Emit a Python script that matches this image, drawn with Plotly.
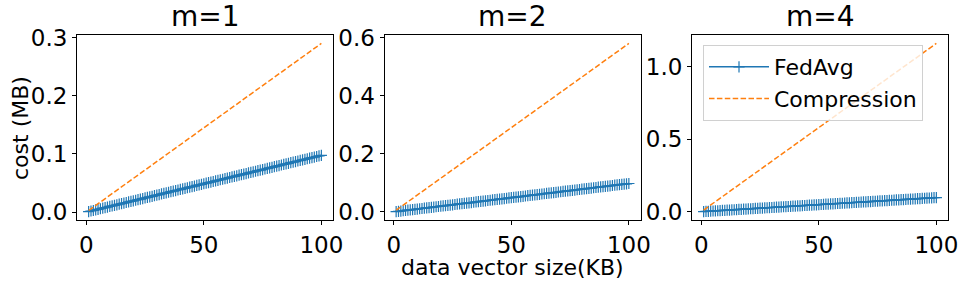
import plotly.graph_objects as go

# ---------------- data ----------------
panel_titles = ["m=1", "m=2", "m=4"]

data_size_kb = [1, 2, 3, 4, 5, 6, 7, 8, 9, 10,
                11, 12, 13, 14, 15, 16, 17, 18, 19, 20,
                21, 22, 23, 24, 25, 26, 27, 28, 29, 30,
                31, 32, 33, 34, 35, 36, 37, 38, 39, 40,
                41, 42, 43, 44, 45, 46, 47, 48, 49, 50,
                51, 52, 53, 54, 55, 56, 57, 58, 59, 60,
                61, 62, 63, 64, 65, 66, 67, 68, 69, 70,
                71, 72, 73, 74, 75, 76, 77, 78, 79, 80,
                81, 82, 83, 84, 85, 86, 87, 88, 89, 90,
                91, 92, 93, 94, 95, 96, 97, 98, 99, 100]

fedavg_cost = [0.0010, 0.0020, 0.0029, 0.0039, 0.0049, 0.0059, 0.0068, 0.0078, 0.0088, 0.0098,
               0.0107, 0.0117, 0.0127, 0.0137, 0.0146, 0.0156, 0.0166, 0.0176, 0.0186, 0.0195,
               0.0205, 0.0215, 0.0225, 0.0234, 0.0244, 0.0254, 0.0264, 0.0273, 0.0283, 0.0293,
               0.0303, 0.0313, 0.0322, 0.0332, 0.0342, 0.0352, 0.0361, 0.0371, 0.0381, 0.0391,
               0.0400, 0.0410, 0.0420, 0.0430, 0.0439, 0.0449, 0.0459, 0.0469, 0.0479, 0.0488,
               0.0498, 0.0508, 0.0518, 0.0527, 0.0537, 0.0547, 0.0557, 0.0566, 0.0576, 0.0586,
               0.0596, 0.0605, 0.0615, 0.0625, 0.0635, 0.0645, 0.0654, 0.0664, 0.0674, 0.0684,
               0.0693, 0.0703, 0.0713, 0.0723, 0.0732, 0.0742, 0.0752, 0.0762, 0.0771, 0.0781,
               0.0791, 0.0801, 0.0811, 0.0820, 0.0830, 0.0840, 0.0850, 0.0859, 0.0869, 0.0879,
               0.0889, 0.0898, 0.0908, 0.0918, 0.0928, 0.0938, 0.0947, 0.0957, 0.0967, 0.0977]

compression_cost_m1 = [0.0029, 0.0058, 0.0087, 0.0116, 0.0145, 0.0174, 0.0203, 0.0232, 0.0261, 0.0290,
                       0.0319, 0.0348, 0.0377, 0.0406, 0.0435, 0.0464, 0.0493, 0.0522, 0.0551, 0.0580,
                       0.0609, 0.0638, 0.0667, 0.0696, 0.0725, 0.0754, 0.0783, 0.0812, 0.0841, 0.0870,
                       0.0899, 0.0928, 0.0957, 0.0986, 0.1015, 0.1044, 0.1073, 0.1102, 0.1131, 0.1160,
                       0.1189, 0.1218, 0.1247, 0.1276, 0.1305, 0.1334, 0.1363, 0.1392, 0.1421, 0.1450,
                       0.1479, 0.1508, 0.1537, 0.1566, 0.1595, 0.1624, 0.1653, 0.1682, 0.1711, 0.1740,
                       0.1769, 0.1798, 0.1827, 0.1856, 0.1885, 0.1914, 0.1943, 0.1972, 0.2001, 0.2030,
                       0.2059, 0.2088, 0.2117, 0.2146, 0.2175, 0.2204, 0.2233, 0.2262, 0.2291, 0.2320,
                       0.2349, 0.2378, 0.2407, 0.2436, 0.2465, 0.2494, 0.2523, 0.2552, 0.2581, 0.2610,
                       0.2639, 0.2668, 0.2697, 0.2726, 0.2755, 0.2784, 0.2813, 0.2842, 0.2871, 0.2900]

compression_cost_m2 = [0.0058, 0.0116, 0.0174, 0.0232, 0.0290, 0.0348, 0.0406, 0.0464, 0.0522, 0.0580,
                       0.0638, 0.0696, 0.0754, 0.0812, 0.0870, 0.0928, 0.0986, 0.1044, 0.1102, 0.1160,
                       0.1218, 0.1276, 0.1334, 0.1392, 0.1450, 0.1508, 0.1566, 0.1624, 0.1682, 0.1740,
                       0.1798, 0.1856, 0.1914, 0.1972, 0.2030, 0.2088, 0.2146, 0.2204, 0.2262, 0.2320,
                       0.2378, 0.2436, 0.2494, 0.2552, 0.2610, 0.2668, 0.2726, 0.2784, 0.2842, 0.2900,
                       0.2958, 0.3016, 0.3074, 0.3132, 0.3190, 0.3248, 0.3306, 0.3364, 0.3422, 0.3480,
                       0.3538, 0.3596, 0.3654, 0.3712, 0.3770, 0.3828, 0.3886, 0.3944, 0.4002, 0.4060,
                       0.4118, 0.4176, 0.4234, 0.4292, 0.4350, 0.4408, 0.4466, 0.4524, 0.4582, 0.4640,
                       0.4698, 0.4756, 0.4814, 0.4872, 0.4930, 0.4988, 0.5046, 0.5104, 0.5162, 0.5220,
                       0.5278, 0.5336, 0.5394, 0.5452, 0.5510, 0.5568, 0.5626, 0.5684, 0.5742, 0.5800]

compression_cost_m4 = [0.0116, 0.0232, 0.0348, 0.0464, 0.0580, 0.0696, 0.0812, 0.0928, 0.1044, 0.1160,
                       0.1276, 0.1392, 0.1508, 0.1624, 0.1740, 0.1856, 0.1972, 0.2088, 0.2204, 0.2320,
                       0.2436, 0.2552, 0.2668, 0.2784, 0.2900, 0.3016, 0.3132, 0.3248, 0.3364, 0.3480,
                       0.3596, 0.3712, 0.3828, 0.3944, 0.4060, 0.4176, 0.4292, 0.4408, 0.4524, 0.4640,
                       0.4756, 0.4872, 0.4988, 0.5104, 0.5220, 0.5336, 0.5452, 0.5568, 0.5684, 0.5800,
                       0.5916, 0.6032, 0.6148, 0.6264, 0.6380, 0.6496, 0.6612, 0.6728, 0.6844, 0.6960,
                       0.7076, 0.7192, 0.7308, 0.7424, 0.7540, 0.7656, 0.7772, 0.7888, 0.8004, 0.8120,
                       0.8236, 0.8352, 0.8468, 0.8584, 0.8700, 0.8816, 0.8932, 0.9048, 0.9164, 0.9280,
                       0.9396, 0.9512, 0.9628, 0.9744, 0.9860, 0.9976, 1.0092, 1.0208, 1.0324, 1.0440,
                       1.0556, 1.0672, 1.0788, 1.0904, 1.1020, 1.1136, 1.1252, 1.1368, 1.1484, 1.1600]

compression_series = [compression_cost_m1, compression_cost_m2, compression_cost_m4]
y_tick_steps = [0.1, 0.2, 0.5]
x_tick_values = [0, 50, 100]
x_tick_labels = ["0", "50", "100"]
y_axis_label = "cost (MB)"
x_axis_label = "data vector size(KB)"

# ---------------- figure ----------------
W, H = 968, 284
FONT = "DejaVu Sans"
BLUE = "#1f77b4"
ORANGE = "#ff7f0e"
TICK_SIZE = 23

x_domains_px = [(77, 333), (384.5, 640.5), (692, 948)]
y_top_px, y_bot_px = 35, 220
y_domain = [1 - y_bot_px / H, 1 - y_top_px / H]

fig = go.Figure()
layout = dict(
    width=W, height=H,
    margin=dict(l=0, r=0, t=0, b=0),
    paper_bgcolor="white", plot_bgcolor="white",
    font=dict(family=FONT, size=TICK_SIZE, color="black"),
    showlegend=True,
    legend=dict(
        x=703 / W, y=1 - 45 / H, xanchor="left", yanchor="top",
        bgcolor="rgba(255,255,255,0.8)", bordercolor="#d0d0d0", borderwidth=1,
        font=dict(family=FONT, size=22, color="black"),
        itemwidth=60, tracegroupgap=0,
    ),
)

annotations = []
for i in range(3):
    ax = "" if i == 0 else str(i + 1)
    xref = "x" + ax
    yref = "y" + ax
    comp = compression_series[i]
    lo = min(fedavg_cost + comp)
    hi = max(fedavg_cost + comp)
    pad = (hi - lo) * 0.05
    xlo, xhi = min(data_size_kb), max(data_size_kb)
    xpad = (xhi - xlo) * 0.05

    fig.add_trace(go.Scatter(
        x=data_size_kb, y=fedavg_cost, name="FedAvg",
        mode="lines+markers",
        line=dict(color=BLUE, width=1.5),
        marker=dict(symbol="cross-thin", size=8, color=BLUE, line=dict(color=BLUE, width=1.2)),
        xaxis=xref, yaxis=yref, showlegend=(i == 2), legendrank=1, legendgroup="fedavg",
    ))
    fig.add_trace(go.Scatter(
        x=data_size_kb, y=comp, name="Compression",
        mode="lines",
        line=dict(color=ORANGE, width=1.5, dash="5.5px,2.4px"),
        xaxis=xref, yaxis=yref, showlegend=(i == 2), legendrank=2, legendgroup="compression",
    ))

    d0, d1 = x_domains_px[i]
    common = dict(
        showgrid=False, zeroline=False, showline=True, linecolor="black", linewidth=1,
        mirror=True, ticks="outside", ticklen=4, tickwidth=1, tickcolor="black",
        tickfont=dict(family=FONT, size=TICK_SIZE, color="black"),
        automargin=False,
    )
    layout["xaxis" + ax] = dict(
        domain=[d0 / W, d1 / W], anchor=yref,
        range=[xlo - xpad, xhi + xpad],
        tickvals=x_tick_values, ticktext=x_tick_labels,
        **common,
    )
    layout["yaxis" + ax] = dict(
        domain=y_domain, anchor=xref,
        range=[lo - pad, hi + pad],
        dtick=y_tick_steps[i], tick0=0, tickformat=".1f",
        **common,
    )
    annotations.append(dict(
        text=panel_titles[i], xref="paper", yref="paper",
        x=(d0 + d1) / 2 / W, y=1 - 16 / H, xanchor="center", yanchor="middle",
        showarrow=False, font=dict(family=FONT, size=28, color="black"),
    ))

annotations.append(dict(
    text=y_axis_label, xref="paper", yref="paper", textangle=-90,
    x=20 / W, y=1 - 128 / H, xanchor="center", yanchor="middle",
    showarrow=False, font=dict(family=FONT, size=22, color="black"),
))
annotations.append(dict(
    text=x_axis_label, xref="paper", yref="paper",
    x=512.5 / W, y=1 - 267 / H, xanchor="center", yanchor="middle",
    showarrow=False, font=dict(family=FONT, size=22, color="black"),
))
layout["annotations"] = annotations
fig.update_layout(**layout)

fig.write_html(
    "out.html",
    config={"displayModeBar": False},
    post_script="document.body.style.margin='0';document.body.style.padding='0';",
)
